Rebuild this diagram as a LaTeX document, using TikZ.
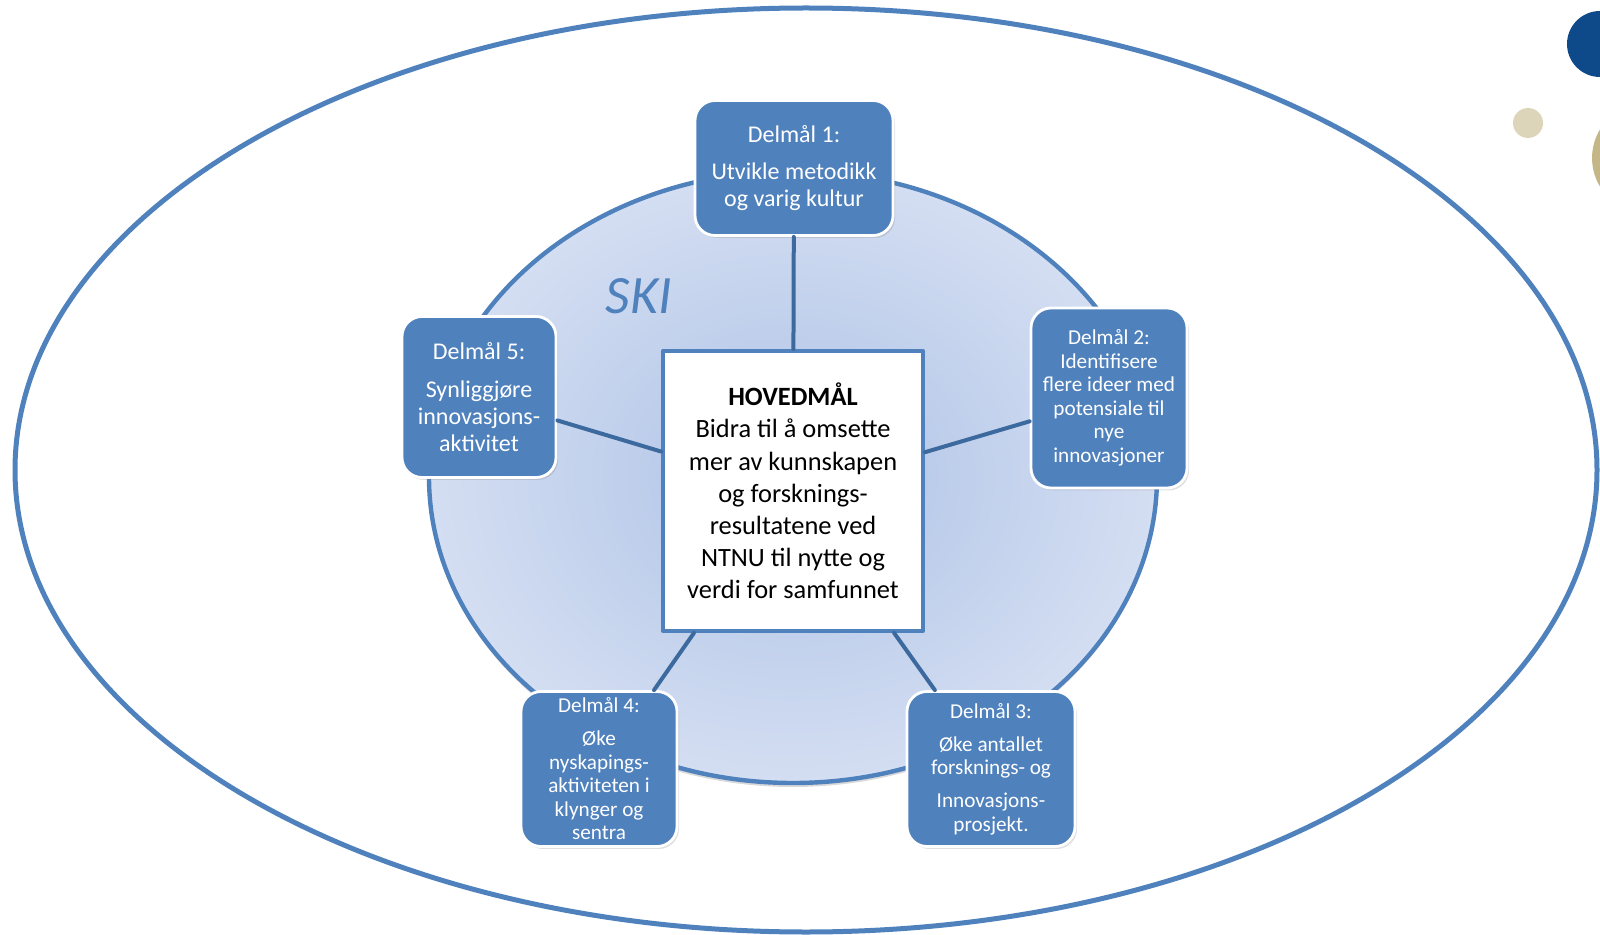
\documentclass[tikz,border=0pt]{standalone}
\usepackage{fontspec}
\setmainfont{Carlito}
\usetikzlibrary{shadows}
\definecolor{skiblue}{RGB}{79,129,189}
\definecolor{spokeblue}{RGB}{61,106,158}
\definecolor{ringin}{RGB}{173,194,230}
\definecolor{ringout}{RGB}{212,222,242}
\definecolor{dotblue}{RGB}{14,74,138}
\definecolor{dotsand}{RGB}{221,213,186}
\definecolor{dotgold}{RGB}{197,182,136}
\begin{document}
\begin{tikzpicture}[x=0.5pt, y=-0.5pt, line join=round, line cap=round,
  goal/.style={draw=white, line width=1.4pt, fill=skiblue, rounded corners=10pt, text=white, align=center, inner sep=0pt,
    drop shadow={opacity=0.25, shadow xshift=1pt, shadow yshift=-1.2pt}},
  big/.style={font=\fontsize{12}{13.4}\selectfont},
  small/.style={font=\fontsize{10.6}{11.75}\selectfont},
  spoke/.style={draw=spokeblue, line width=2pt}]
\useasboundingbox (0,0) rectangle (1600,935);
% frame and ring
\draw[skiblue, line width=2.5pt] (806,470) ellipse [x radius=395.5pt, y radius=231pt];
\shade[draw=skiblue, line width=2.2pt, inner color=ringin, outer color=ringout,
  drop shadow={opacity=0.3, shadow xshift=0pt, shadow yshift=-2pt}] (793,477) ellipse [x radius=182pt, y radius=153pt];
% dots
\fill[dotblue] (1600,44) circle (16.5pt);
\fill[dotsand] (1528,123) circle (7.5pt);
\fill[dotgold] (1647,158) circle (27.5pt);
\node[font=\fontsize{27}{32}\selectfont\itshape, text=skiblue] (ski) at (639,296) {SKI};
\node[draw=skiblue, line width=2pt, fill=white, minimum width=130pt, minimum height=140pt, align=center,
  font=\fontsize{13.2}{16.1}\selectfont] (main) at (793,491)
  {\textbf{HOVEDMÅL}\\Bidra til å omsette\\mer av kunnskapen\\og forsknings-\\resultatene ved\\NTNU til nytte og\\verdi for samfunnet};
\node[goal, big, minimum width=99pt, minimum height=67.5pt] (d1) at (794,168)
  {Delmål 1:\\[5pt]Utvikle metodikk\\og varig kultur};
\node[goal, small, minimum width=78pt, minimum height=90pt] (d2) at (1109,398)
  {Delmål 2:\\Identifisere\\flere ideer med\\potensiale til\\nye\\innovasjoner};
\node[goal, small, minimum width=84pt, minimum height=77.5pt] (d3) at (991,769)
  {Delmål 3:\\[4.75pt]Øke antallet\\forsknings- og\\[4.75pt]Innovasjons-\\prosjekt.};
\node[goal, small, minimum width=78pt, minimum height=77.5pt] (d4) at (599,769)
  {Delmål 4:\\[4.75pt]Øke\\nyskapings-\\aktiviteten i\\klynger og\\sentra};
\node[goal, big, minimum width=77pt, minimum height=80.5pt] (d5) at (479,397)
  {Delmål 5:\\[5.5pt]Synliggjøre\\innovasjons-\\aktivitet};
\foreach \g in {d1,d2,d3,d4,d5}
  \draw[spoke] (main)--(\g);
\end{tikzpicture}
\end{document}
